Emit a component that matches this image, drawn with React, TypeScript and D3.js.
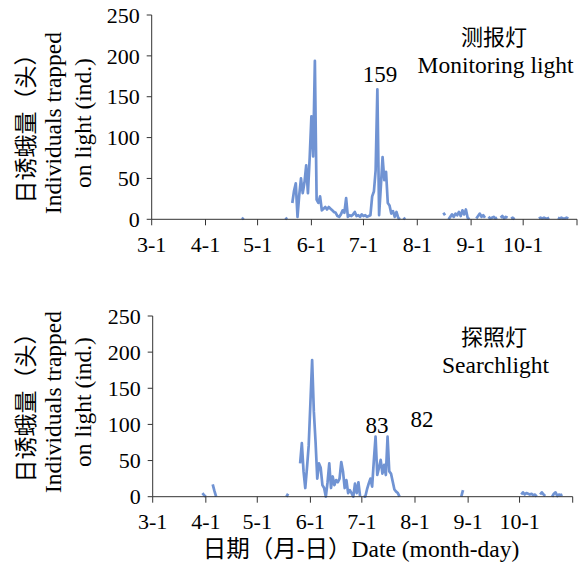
import React from 'react';
import * as d3 from 'd3';

// ---------- data ----------
const monthTicks = ['03-01', '04-01', '05-01', '06-01', '07-01', '08-01', '09-01', '10-01'];
const monthLabels = ['3-1', '4-1', '5-1', '6-1', '7-1', '8-1', '9-1', '10-1'];
const yTicks = [0, 50, 100, 150, 200, 250];

type Seg = { start: string; values: number[] };

// Monitoring light (测报灯): daily counts, each segment starts at a date (MM-DD)
const monitoringSegments: Seg[] = [
  { start: '04-22', values: [0, 2] },
  { start: '05-17', values: [2, 0] },
  {
    start: '05-21',
    values: [
      20, 35, 44, 3, 30, 50, 32, 45, 66, 32, 75, 126, 77, 194, 24, 20, 28, 11, 13, 15,
      12, 15, 13, 11, 9, 8, 4, 3, 6, 11, 8, 26, 3, 5, 4, 6, 9, 4, 5, 3,
      6, 4, 5, 3, 4, 5, 28, 34, 60, 159, 5, 40, 76, 48, 58, 20, 17, 7, 10, 3,
      9, 2, 0,
    ],
  },
  { start: '07-24', values: [2, 0] },
  { start: '08-16', values: [8, 5] },
  { start: '08-19', values: [0, 3, 6, 3, 7, 5, 9, 4, 11, 6, 12, 2, 0] },
  { start: '09-04', values: [1, 4, 7, 3, 5, 2] },
  { start: '09-11', values: [3, 1, 2, 3, 1, 2] },
  { start: '09-18', values: [2, 4, 1, 3, 2] },
  { start: '09-24', values: [1, 2, 0] },
  { start: '10-10', values: [1, 2, 1, 2, 1, 1, 2] },
  { start: '10-21', values: [2, 1, 2, 1, 1, 2, 1] },
];

// Searchlight (探照灯)
const searchlightSegments: Seg[] = [
  { start: '03-30', values: [5, 2, 0] },
  { start: '04-05', values: [17, 8, 0] },
  { start: '05-18', values: [0, 4] },
  {
    start: '05-26',
    values: [
      46, 74, 35, 12, 40, 71, 130, 189, 118, 76, 25, 46, 40, 16, 12, 0, 20, 46, 12, 28,
      16, 23, 20, 25, 48, 35, 12, 23, 5, 9, 5, 0, 18, 5, 20, 0,
    ],
  },
  {
    start: '07-02',
    values: [0, 0, 10, 18, 25, 14, 50, 83, 30, 40, 51, 32, 44, 30, 83, 35, 32, 21, 10, 7, 5, 0],
  },
  { start: '08-28', values: [0, 9] },
  { start: '10-02', values: [3, 6, 3, 5, 4, 3, 4, 2, 3, 0] },
  { start: '10-13', values: [3, 6, 3, 1] },
  { start: '10-20', values: [0, 4, 6, 1, 3, 2, 3] },
];

const topLabels = { cn: '测报灯', en: 'Monitoring light', note: ['159'] };
const bottomLabels = { cn: '探照灯', en: 'Searchlight', note: ['83', '82'] };

// ---------- helpers ----------
const YEAR = 2021;
const md = (s: string) => {
  const [m, d] = s.split('-').map(Number);
  return new Date(YEAR, m - 1, d);
};

const LINE = '#7093d3';
const AXIS = '#333';
const SERIF = '"Liberation Serif", "Times New Roman", serif';
const CJK = '"Noto Sans CJK SC", "Liberation Serif", serif';
const MIX = '"Liberation Serif", "Noto Sans CJK SC", serif';

type PanelProps = {
  segments: Seg[];
  x0: number;
  x1: number;
  yTop: number;
  yBottom: number;
  titleY: number;
  labels: { cn: string; en: string; note: string[] };
  notePos: { x: number; y: number }[];
  cnY: number;
  enY: number;
};

function Panel({ segments, x0, x1, yTop, yBottom, titleY, labels, notePos, cnY, enY }: PanelProps) {
  const x = d3.scaleTime().domain([md('03-01'), md('11-01')]).range([x0, x1]);
  const y = d3.scaleLinear().domain([0, 250]).range([yBottom, yTop]);
  const line = d3
    .line<{ date: Date; v: number }>()
    .x((d) => x(d.date))
    .y((d) => y(d.v));

  const paths = segments.map((s) => {
    const st = md(s.start);
    const pts = s.values.map((v, i) => ({ date: d3.timeDay.offset(st, i), v }));
    return line(pts) || '';
  });

  return (
    <g>
      {paths.map((p, i) => (
        <path key={i} d={p} fill="none" stroke={LINE} strokeWidth={2.7} strokeLinejoin="round" />
      ))}
      {/* y axis */}
      <line x1={x0} x2={x0} y1={yTop} y2={yBottom} stroke={AXIS} strokeWidth={1} />
      {yTicks.map((t) => (
        <g key={t}>
          <line x1={x0 - 5} x2={x0} y1={y(t)} y2={y(t)} stroke={AXIS} strokeWidth={1} />
          <text
            x={x0 - 12}
            y={y(t)}
            dy="0.35em"
            textAnchor="end"
            fontFamily={SERIF}
            fontSize={22}
            fill="#000"
          >
            {t}
          </text>
        </g>
      ))}
      {/* x axis */}
      <line x1={x0} x2={x1} y1={yBottom} y2={yBottom} stroke={AXIS} strokeWidth={1} />
      {[...monthTicks, '11-01'].map((m) => (
        <line key={m} x1={x(md(m))} x2={x(md(m))} y1={yBottom} y2={yBottom + 6} stroke={AXIS} strokeWidth={1} />
      ))}
      {monthTicks.map((m, i) => (
        <text
          key={m}
          x={x(md(m))}
          y={yBottom + 32.5}
          textAnchor="middle"
          fontFamily={SERIF}
          fontSize={22}
          fill="#000"
        >
          {monthLabels[i]}
        </text>
      ))}
      {/* y title */}
      <g transform={`translate(34,${titleY}) rotate(-90)`}>
        <text textAnchor="middle" fontFamily={CJK} fontSize={23} fill="#000">
          日诱蛾量（头）
        </text>
      </g>
      <g transform={`translate(61,${titleY}) rotate(-90)`}>
        <text textAnchor="middle" fontFamily={SERIF} fontSize={23.5} fill="#000">
          Individuals trapped
        </text>
      </g>
      <g transform={`translate(91,${titleY}) rotate(-90)`}>
        <text textAnchor="middle" fontFamily={SERIF} fontSize={23.5} fill="#000">
          on light (ind.)
        </text>
      </g>
      {/* legend-like labels */}
      <text x={494} y={cnY} textAnchor="middle" fontFamily={CJK} fontSize={22} fill="#000">
        {labels.cn}
      </text>
      <text x={495.5} y={enY} textAnchor="middle" fontFamily={SERIF} fontSize={23.5} fill="#000">
        {labels.en}
      </text>
      {labels.note.map((n, i) => (
        <text
          key={n}
          x={notePos[i].x}
          y={notePos[i].y}
          textAnchor="middle"
          fontFamily={SERIF}
          fontSize={23}
          fill="#000"
        >
          {n}
        </text>
      ))}
    </g>
  );
}

export default function App() {
  return (
    <svg
      width={585}
      height={565}
      viewBox="0 0 585 565"
      style={{ position: 'absolute', left: 0, top: 0, background: '#fff' }}
    >
      <rect width={585} height={565} fill="#fff" />
      <Panel
        segments={monitoringSegments}
        x0={151.7}
        x1={577}
        yTop={15}
        yBottom={219.3}
        titleY={123}
        labels={topLabels}
        notePos={[{ x: 380, y: 82 }]}
        cnY={45}
        enY={73}
      />
      <Panel
        segments={searchlightSegments}
        x0={152.7}
        x1={572.7}
        yTop={316}
        yBottom={496.7}
        titleY={402}
        labels={bottomLabels}
        notePos={[
          { x: 377, y: 433 },
          { x: 422, y: 427 },
        ]}
        cnY={345}
        enY={373}
      />
      <text x={361} y={557} textAnchor="middle" fontFamily={MIX} fontSize={23.5} fill="#000">
        日期（月-日）Date (month-day)
      </text>
    </svg>
  );
}
